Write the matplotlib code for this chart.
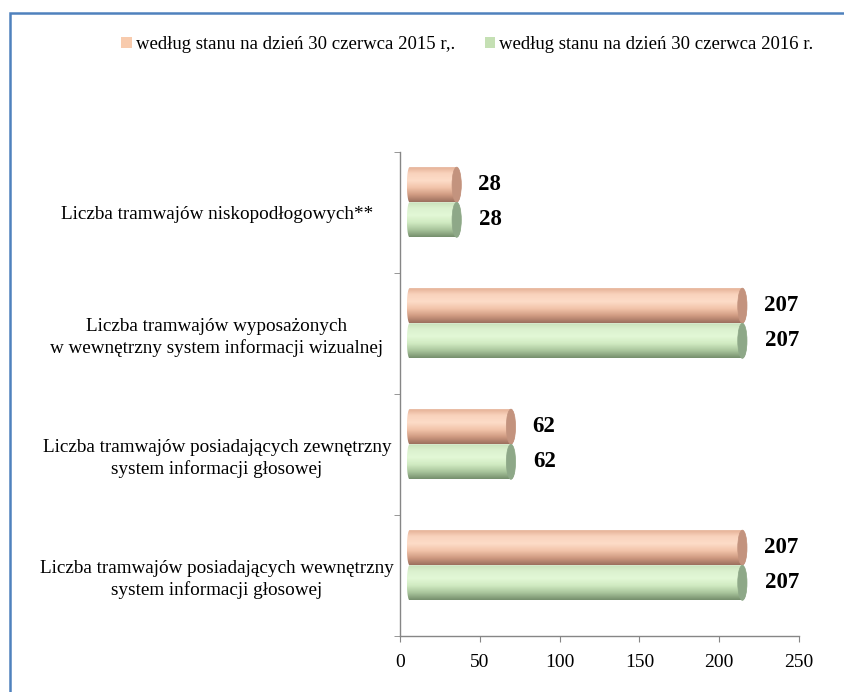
import numpy as np
import matplotlib.pyplot as plt
from matplotlib.path import Path
from matplotlib.patches import PathPatch, Ellipse, Patch, Rectangle
from matplotlib.colors import LinearSegmentedColormap

plt.rcParams['font.family'] = ['Liberation Serif', 'DejaVu Serif']

# dane
categories = [
    'Liczba tramwajów posiadających wewnętrzny\nsystem informacji głosowej',
    'Liczba tramwajów posiadających zewnętrzny\nsystem informacji głosowej',
    'Liczba tramwajów wyposażonych\nw wewnętrzny system informacji wizualnej',
    'Liczba tramwajów niskopodłogowych**',
]
vals_2015 = [207, 62, 207, 28]
vals_2016 = [207, 62, 207, 28]
series_names = ['według stanu na dzień 30 czerwca 2015 r,.',
                'według stanu na dzień 30 czerwca 2016 r.']
x_ticks = [0, 50, 100, 150, 200, 250]

# kolory cylindrów: góra -> dół
grad_2015 = ['#e2ac90', '#f9d3bd', '#fddcc8', '#f2c4aa', '#d09b82', '#9c705e']
grad_2016 = ['#c6deb8', '#dcf2cf', '#e2f8d6', '#d0eac1', '#a9c59c', '#768f6d']
cap_2015 = '#c3937e'
cap_2016 = '#8ea888'
legend_cols = ['#f8cbad', '#c5e0b4']

bar_h = 0.29
x_start = 6.0      # przesunięcie 3D
x_extra = 7.5
bulge = 1.7
cap_w = 2.9

fig = plt.figure(figsize=(8.45, 6.92), dpi=100)
ax = fig.add_axes([0.4734, 0.0809, 0.4722, 0.6994])


def cylinder(ax, v, yc, grad, capc):
    x0 = x_start
    x1 = v + x_extra
    yt = yc + bar_h / 2
    yb = yc - bar_h / 2
    t = np.linspace(np.pi / 2, 3 * np.pi / 2, 40)
    left = np.column_stack([x0 + bulge * np.cos(t), yc + bar_h / 2 * np.sin(t)])
    t2 = np.linspace(-np.pi / 2, np.pi / 2, 40)
    right = np.column_stack([x1 + cap_w * np.cos(t2), yc + bar_h / 2 * np.sin(t2)])
    verts = np.vstack([left, right, left[:1]])
    codes = [Path.MOVETO] + [Path.LINETO] * (len(verts) - 2) + [Path.CLOSEPOLY]
    patch = PathPatch(Path(verts, codes), facecolor='none', edgecolor='none')
    ax.add_patch(patch)
    cmap = LinearSegmentedColormap.from_list('g', grad)
    img = ax.imshow(np.linspace(0, 1, 100).reshape(-1, 1), cmap=cmap, aspect='auto',
                    extent=(x0 - bulge, x1 + cap_w, yb, yt), interpolation='bilinear',
                    zorder=2)
    img.set_clip_path(patch)
    ax.add_patch(Ellipse((x1, yc), 2 * cap_w, bar_h, facecolor=capc,
                         edgecolor=capc, lw=0.5, zorder=3))
    return x1 + cap_w


y = np.arange(len(categories))
for i in range(len(categories)):
    e1 = cylinder(ax, vals_2015[i], y[i] + 0.23, grad_2015, cap_2015)
    e2 = cylinder(ax, vals_2016[i], y[i] - 0.06, grad_2016, cap_2016)
    ax.annotate(str(vals_2015[i]), (e1, y[i] + 0.23), xytext=(12, 0),
                textcoords='offset points', va='center', ha='left',
                fontsize=16.5, fontweight='bold')
    ax.annotate(str(vals_2016[i]), (e2, y[i] - 0.06), xytext=(13, 0),
                textcoords='offset points', va='center', ha='left',
                fontsize=16.5, fontweight='bold')

ax.set_xlim(0, 250)
ax.set_ylim(-0.5, len(categories) - 0.5)
ax.set_xticks(x_ticks)
ax.set_xticklabels([str(t) for t in x_ticks], fontsize=14)
ax.set_yticks(y)
ax.set_yticklabels(categories, fontsize=13.8, ha='center', multialignment='center',
                   linespacing=1.3)
ax.set_yticks(np.arange(len(categories) + 1) - 0.5, minor=True)
ax.tick_params(axis='y', which='major', length=0, pad=131.8)
ax.tick_params(axis='y', which='minor', length=4.5, color='#868686', direction='out')
ax.tick_params(axis='x', length=4, color='#868686', pad=9)
for s in ['top', 'right']:
    ax.spines[s].set_visible(False)
for s in ['left', 'bottom']:
    ax.spines[s].set_color('#868686')
    ax.spines[s].set_linewidth(1.0)

handles = [Patch(facecolor=legend_cols[0], edgecolor='none'),
           Patch(facecolor=legend_cols[1], edgecolor='none')]
fig.legend(handles, series_names, loc='center', bbox_to_anchor=(0.553, 0.935),
           ncol=2, frameon=False, fontsize=13.5, handlelength=0.55, handleheight=0.55,
           handletextpad=0.2, columnspacing=1.6)

# niebieska ramka
fig.patches.append(Rectangle((10 / 845, -0.2), 1.2, 1.2 - 12.5 / 692,
                             transform=fig.transFigure, fill=False,
                             edgecolor='#4f81bd', lw=1.8))

fig.savefig('out.png', dpi=100)
